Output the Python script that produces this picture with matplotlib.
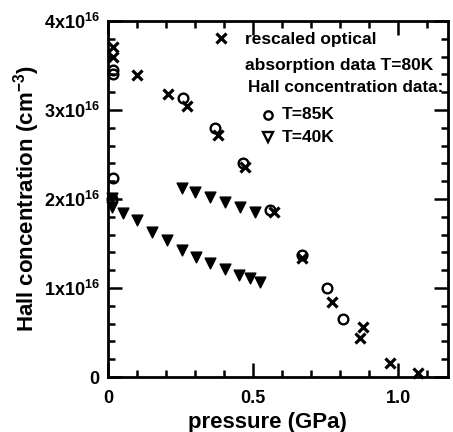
import matplotlib
matplotlib.use("Agg")
import matplotlib.pyplot as plt
from matplotlib.ticker import MultipleLocator, FixedLocator, FixedFormatter

plt.rcParams['font.family'] = ['Liberation Sans', 'DejaVu Sans']
plt.rcParams['font.weight'] = 'bold'
plt.rcParams['mathtext.fontset'] = 'custom'
plt.rcParams['mathtext.rm'] = 'Liberation Sans:bold'
plt.rcParams['mathtext.it'] = 'Liberation Sans:bold'
plt.rcParams['mathtext.bf'] = 'Liberation Sans:bold'

# rescaled optical absorption data T=80K (crosses), concentration in 1e16 cm^-3
opt_p = [0.017, 0.017, 0.10, 0.207, 0.272, 0.38, 0.472, 0.572, 0.67, 0.772, 0.88, 0.869, 0.972, 1.069]
opt_n = [3.71, 3.60, 3.39, 3.18, 3.05, 2.72, 2.36, 1.85, 1.34, 0.84, 0.56, 0.44, 0.16, 0.045]

# Hall concentration T=85K (circles)
h85_p = [0.017, 0.017, 0.017, 0.014, 0.258, 0.369, 0.466, 0.56, 0.67, 0.755, 0.81]
h85_n = [3.45, 3.40, 2.24, 2.00, 3.13, 2.80, 2.40, 1.88, 1.37, 1.00, 0.65]

# Hall concentration T=40K (triangles)
h40_p = [0.014, 0.014, 0.052, 0.10, 0.152, 0.203, 0.255, 0.303, 0.352, 0.403, 0.452, 0.49, 0.524,
         0.255, 0.30, 0.352, 0.403, 0.455, 0.507]
h40_n = [2.01, 1.91, 1.84, 1.76, 1.63, 1.54, 1.43, 1.35, 1.28, 1.21, 1.15, 1.11, 1.07,
         2.12, 2.08, 2.02, 1.97, 1.91, 1.85]

ytick_vals = [0, 1, 2, 3, 4]
ytick_labels = ['0', '1x10$^{16}$', '2x10$^{16}$', '3x10$^{16}$', '4x10$^{16}$']
xtick_vals = [0, 0.5, 1.0]
xtick_labels = ['0', '0.5', '1.0']

fig = plt.figure(figsize=(4.53, 4.32), dpi=100)
ax = fig.add_axes([0.2384, 0.1273, 0.7506, 0.8241])

scale = 1e16
h40_y = [v * scale for v in h40_n]
# solid black triangles
ax.scatter(h40_p, h40_y, marker='v', s=60, c='black', edgecolors='black',
           linewidths=1.0, clip_on=False, zorder=3)
ax.plot(h85_p, [v * scale for v in h85_n], linestyle='none', marker='o', ms=7,
        mfc='none', mec='black', mew=1.7, clip_on=False, zorder=5)
ax.plot(opt_p, [v * scale for v in opt_n], linestyle='none', marker='x', ms=7,
        color='black', mew=2.3, clip_on=False, zorder=6)

ax.set_xlim(0, 1.172)
ax.set_ylim(0, 4 * scale)

ax.xaxis.set_major_locator(FixedLocator(xtick_vals))
ax.xaxis.set_major_formatter(FixedFormatter(xtick_labels))
ax.xaxis.set_minor_locator(MultipleLocator(0.1))
ax.yaxis.set_major_locator(FixedLocator([v * scale for v in ytick_vals]))
ax.yaxis.set_major_formatter(FixedFormatter(ytick_labels))
ax.yaxis.set_minor_locator(MultipleLocator(0.2 * scale))

ax.tick_params(which='both', direction='in', top=True, right=True, width=1.8, labelsize=13)
ax.tick_params(which='major', length=10, pad=6)
ax.tick_params(axis='x', which='major', pad=9)
ax.tick_params(which='minor', length=5)
for sp in ax.spines.values():
    sp.set_linewidth(2)

ax.set_xlabel('pressure (GPa)', fontsize=16, fontweight='bold')
ax.set_ylabel('Hall concentration (cm$^{-3}$)', fontsize=16, fontweight='bold', labelpad=1)
ax.xaxis.set_label_coords(0.47, -0.098)

# legend drawn as markers + text in axes coords
ax.plot([0.332], [0.952], transform=ax.transAxes, linestyle='none', marker='x', ms=7,
        color='black', mew=2.3, clip_on=False)
ax.text(0.403, 0.947, 'rescaled optical', transform=ax.transAxes, fontsize=12.5,
        fontweight='bold', va='center', ha='left')
ax.text(0.403, 0.876, 'absorption data T=80K', transform=ax.transAxes, fontsize=12.5,
        fontweight='bold', va='center', ha='left')
ax.text(0.412, 0.812, 'Hall concentration data:', transform=ax.transAxes, fontsize=12.3,
        fontweight='bold', va='center', ha='left')
ax.plot([0.47], [0.736], transform=ax.transAxes, linestyle='none', marker='o', ms=6,
        mfc='none', mec='black', mew=1.7)
ax.text(0.512, 0.736, 'T=85K', transform=ax.transAxes, fontsize=12.5,
        fontweight='bold', va='center', ha='left')
ax.plot([0.47], [0.674], transform=ax.transAxes, linestyle='none', marker='v', ms=7,
        mfc='white', mec='black', mew=1.7)
ax.text(0.512, 0.674, 'T=40K', transform=ax.transAxes, fontsize=12.5,
        fontweight='bold', va='center', ha='left')

fig.savefig('out.png', dpi=100)
